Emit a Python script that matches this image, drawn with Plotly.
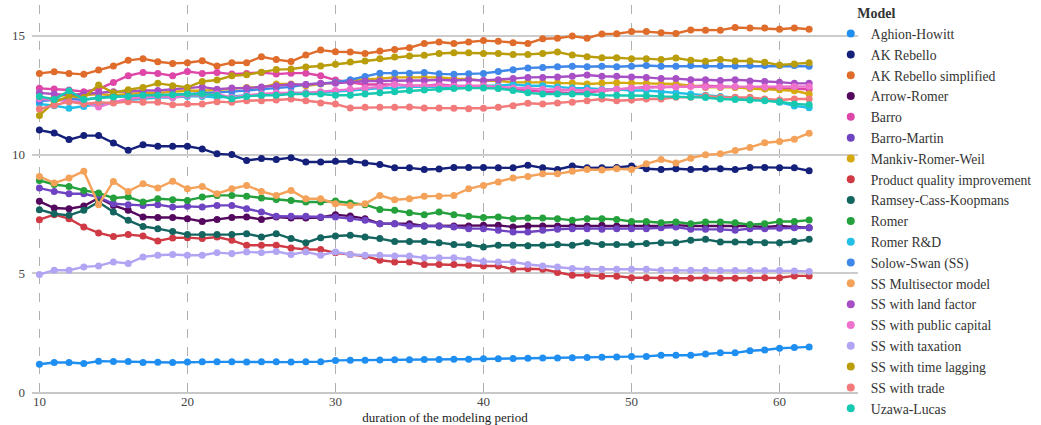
import plotly.graph_objects as go

periods = list(range(10, 63))

models = ["Aghion-Howitt", "AK Rebello", "AK Rebello simplified", "Arrow-Romer", "Barro",
          "Barro-Martin", "Mankiv-Romer-Weil", "Product quality improvement",
          "Ramsey-Cass-Koopmans", "Romer", "Romer R&D", "Solow-Swan (SS)",
          "SS Multisector model", "SS with land factor", "SS with public capital",
          "SS with taxation", "SS with time lagging", "SS with trade", "Uzawa-Lucas"]

aghion_howitt = [1.17, 1.24, 1.24, 1.2, 1.3, 1.28, 1.28, 1.24, 1.25, 1.24, 1.26, 1.27, 1.27, 1.27,
                 1.26, 1.27, 1.27, 1.26, 1.27, 1.27, 1.33, 1.34, 1.34, 1.35, 1.36, 1.36, 1.37, 1.37,
                 1.38, 1.38, 1.4, 1.4, 1.41, 1.42, 1.43, 1.43, 1.44, 1.45, 1.46, 1.47, 1.49, 1.5,
                 1.55, 1.55, 1.55, 1.6, 1.65, 1.65, 1.74, 1.77, 1.84, 1.87, 1.9]
ak_rebello = [11.03, 10.91, 10.63, 10.8, 10.8, 10.49, 10.18, 10.41, 10.35, 10.35, 10.35, 10.24,
              10.03, 10.0, 9.75, 9.83, 9.79, 9.87, 9.69, 9.69, 9.72, 9.72, 9.65, 9.58, 9.44, 9.44,
              9.37, 9.39, 9.46, 9.46, 9.46, 9.44, 9.44, 9.55, 9.44, 9.37, 9.52, 9.44, 9.44, 9.46,
              9.52, 9.4, 9.37, 9.4, 9.37, 9.4, 9.4, 9.37, 9.46, 9.46, 9.44, 9.44, 9.32]
ak_rebello_simplified = [13.42, 13.49, 13.42, 13.38, 13.56, 13.73, 13.97, 14.04, 13.91, 13.84,
                         13.87, 13.95, 13.73, 13.87, 13.87, 14.12, 14.0, 13.92, 14.19, 14.4,
                         14.33, 14.32, 14.26, 14.36, 14.43, 14.5, 14.68, 14.74, 14.68, 14.74,
                         14.8, 14.77, 14.71, 14.68, 14.88, 14.9, 14.99, 14.9, 15.08, 15.09,
                         15.18, 15.18, 15.13, 15.1, 15.25, 15.24, 15.24, 15.35, 15.33, 15.33,
                         15.28, 15.33, 15.28]
arrow_romer = [8.03, 7.75, 7.72, 7.83, 8.17, 7.86, 7.65, 7.37, 7.35, 7.35, 7.3, 7.18, 7.27, 7.35,
               7.37, 7.27, 7.37, 7.33, 7.33, 7.35, 7.47, 7.41, 7.3, 7.09, 7.09, 7.09, 6.99, 6.99,
               6.99, 6.99, 7.02, 7.02, 6.95, 6.99, 6.99, 6.99, 6.99, 6.99, 7.02, 6.99, 7.02, 7.02,
               6.99, 7.03, 6.99, 6.99, 6.99, 6.99, 6.99, 6.95, 6.99, 6.95, 6.92]
barro = [12.79, 12.76, 12.72, 12.65, 12.76, 13.04, 13.32, 13.46, 13.42, 13.32, 13.5, 13.42, 13.46,
         13.39, 13.42, 13.46, 13.39, 13.43, 13.43, 13.32, 13.14, 13.05, 12.95, 12.95, 12.95, 12.9,
         12.9, 12.95, 12.9, 12.85, 12.85, 12.8, 12.72, 12.7, 12.65, 12.62, 12.6, 12.62, 12.68,
         12.75, 12.8, 12.85, 12.85, 12.87, 12.9, 12.9, 12.87, 12.85, 12.82, 12.8, 12.8, 12.77, 12.75]
barro_martin = [8.59, 8.45, 8.35, 8.35, 8.21, 7.93, 7.89, 7.86, 7.89, 7.79, 7.82, 7.79, 7.86,
                7.86, 7.72, 7.58, 7.4, 7.4, 7.4, 7.37, 7.37, 7.3, 7.23, 7.09, 7.09, 6.99, 6.99,
                6.99, 6.95, 6.88, 6.88, 6.81, 6.74, 6.74, 6.81, 6.85, 6.88, 6.88, 6.85, 6.88, 6.88,
                6.88, 6.92, 6.95, 6.85, 6.85, 6.85, 6.81, 6.88, 6.88, 6.9, 6.92, 6.92]
mankiv_romer_weil = [12.3, 12.4, 12.55, 12.5, 12.55, 12.5, 12.55, 12.6, 12.6, 12.65, 12.69, 12.69,
                     12.72, 12.76, 12.83, 12.83, 12.97, 12.97, 12.9, 12.97, 13.04, 13.1, 13.18,
                     13.2, 13.25, 13.25, 13.25, 13.25, 13.2, 13.18, 13.11, 13.11, 13.04, 13.05,
                     13.04, 13.01, 13.01, 12.97, 13.01, 13.03, 13.01, 13.0, 12.97, 12.97, 12.9,
                     12.83, 12.83, 12.83, 12.78, 12.76, 12.73, 12.69, 12.55]
product_quality = [7.26, 7.47, 7.3, 6.95, 6.7, 6.55, 6.63, 6.57, 6.36, 6.49, 6.5, 6.46, 6.53, 6.39,
                   6.18, 6.18, 6.18, 6.07, 6.0, 6.0, 5.86, 5.79, 5.73, 5.55, 5.48, 5.48, 5.37,
                   5.37, 5.37, 5.34, 5.31, 5.31, 5.17, 5.19, 5.17, 5.03, 4.92, 4.92, 4.88, 4.88,
                   4.81, 4.81, 4.79, 4.79, 4.79, 4.81, 4.79, 4.79, 4.79, 4.81, 4.81, 4.89, 4.89]
ramsey_cass_koopmans = [7.68, 7.51, 7.44, 7.65, 8.0, 7.58, 7.23, 6.97, 6.88, 6.76, 6.63, 6.63,
                        6.63, 6.63, 6.67, 6.53, 6.67, 6.46, 6.29, 6.5, 6.57, 6.6, 6.53, 6.46,
                        6.34, 6.34, 6.34, 6.29, 6.21, 6.2, 6.11, 6.18, 6.18, 6.16, 6.18, 6.21,
                        6.18, 6.29, 6.21, 6.21, 6.21, 6.25, 6.29, 6.29, 6.39, 6.43, 6.32, 6.32,
                        6.32, 6.29, 6.29, 6.34, 6.43]
romer = [8.91, 8.74, 8.66, 8.49, 8.38, 8.17, 8.21, 8.0, 8.14, 8.1, 8.07, 8.21, 8.28, 8.28, 8.25,
         8.17, 8.11, 8.07, 8.0, 8.0, 8.04, 7.96, 7.89, 7.69, 7.65, 7.55, 7.47, 7.58, 7.47, 7.4,
         7.35, 7.37, 7.3, 7.33, 7.33, 7.3, 7.23, 7.3, 7.3, 7.27, 7.18, 7.18, 7.13, 7.16, 7.09,
         7.16, 7.16, 7.13, 7.05, 7.09, 7.18, 7.18, 7.24]
romer_rd = [12.13, 12.06, 11.95, 12.03, 12.1, 12.2, 12.3, 12.35, 12.4, 12.4, 12.45, 12.45, 12.4,
            12.45, 12.5, 12.5, 12.55, 12.6, 12.6, 12.62, 12.65, 12.7, 12.75, 12.8, 12.8, 12.85,
            12.85, 12.85, 12.85, 12.85, 12.9, 12.9, 12.95, 12.9, 12.9, 12.85, 12.8, 12.8, 12.75,
            12.75, 12.7, 12.7, 12.65, 12.6, 12.55, 12.5, 12.45, 12.4, 12.35, 12.3, 12.2, 12.05, 11.97]
solow_swan = [12.25, 12.3, 12.35, 12.3, 12.4, 12.45, 12.45, 12.5, 12.5, 12.52, 12.55, 12.6,
              12.62, 12.65, 12.7, 12.75, 12.8, 12.85, 12.95, 12.98, 13.04, 13.15, 13.29, 13.43,
              13.43, 13.43, 13.46, 13.4, 13.38, 13.4, 13.42, 13.5, 13.57, 13.65, 13.67, 13.7,
              13.72, 13.7, 13.72, 13.7, 13.72, 13.75, 13.72, 13.72, 13.75, 13.75, 13.74, 13.73,
              13.75, 13.75, 13.75, 13.75, 13.72]
ss_multisector = [9.08, 8.8, 9.01, 9.3, 7.89, 8.87, 8.45, 8.77, 8.59, 8.88, 8.56, 8.66, 8.35,
                  8.56, 8.7, 8.45, 8.28, 8.49, 8.14, 8.14, 7.93, 7.86, 7.93, 8.28, 8.1, 8.14,
                  8.24, 8.25, 8.28, 8.56, 8.7, 8.84, 9.01, 9.08, 9.19, 9.19, 9.3, 9.37, 9.35,
                  9.4, 9.37, 9.61, 9.79, 9.65, 9.85, 9.99, 10.03, 10.17, 10.3, 10.5, 10.55,
                  10.65, 10.9]
ss_land_factor = [12.6, 12.55, 12.5, 12.55, 12.6, 12.65, 12.65, 12.7, 12.7, 12.75, 12.8, 12.85,
                  12.75, 12.8, 12.8, 12.85, 12.9, 12.95, 12.95, 13.0, 13.0, 13.05, 13.1, 13.1,
                  13.12, 13.12, 13.12, 13.15, 13.12, 13.15, 13.12, 13.15, 13.2, 13.25, 13.25,
                  13.27, 13.3, 13.35, 13.3, 13.3, 13.27, 13.25, 13.2, 13.2, 13.15, 13.15, 13.12,
                  13.15, 13.1, 13.08, 13.05, 13.0, 13.0]
ss_public_capital = [12.35, 12.3, 12.25, 12.2, 12.0, 12.2, 12.35, 12.4, 12.45, 12.4, 12.5, 12.5,
                     12.55, 12.4, 12.5, 12.55, 12.6, 12.6, 12.6, 12.65, 12.7, 12.75, 12.8, 12.85,
                     12.95, 12.9, 12.9, 12.9, 12.88, 12.9, 12.9, 12.85, 12.8, 12.78, 12.75, 12.75,
                     12.72, 12.7, 12.72, 12.75, 12.8, 12.82, 12.85, 12.85, 12.87, 12.85, 12.85,
                     12.87, 12.85, 12.85, 12.85, 12.87, 12.87]
ss_taxation = [4.95, 5.13, 5.13, 5.27, 5.31, 5.48, 5.41, 5.69, 5.76, 5.79, 5.76, 5.76, 5.87, 5.83,
               5.9, 5.87, 5.92, 5.79, 5.9, 5.76, 5.9, 5.79, 5.76, 5.76, 5.73, 5.73, 5.65, 5.65,
               5.65, 5.59, 5.5, 5.48, 5.48, 5.37, 5.31, 5.27, 5.2, 5.17, 5.17, 5.17, 5.17, 5.17,
               5.13, 5.13, 5.13, 5.13, 5.12, 5.12, 5.12, 5.12, 5.12, 5.1, 5.08]
ss_time_lagging = [11.65, 12.21, 12.46, 12.4, 12.93, 12.6, 12.73, 12.83, 13.0, 12.9, 12.83, 13.08,
                   13.14, 13.32, 13.36, 13.47, 13.58, 13.6, 13.69, 13.73, 13.8, 13.9, 13.94,
                   14.04, 14.11, 14.15, 14.18, 14.26, 14.29, 14.29, 14.26, 14.26, 14.22, 14.22,
                   14.26, 14.32, 14.19, 14.12, 14.08, 14.08, 14.04, 14.04, 14.0, 14.07, 13.97,
                   13.93, 14.0, 13.94, 13.94, 13.89, 13.77, 13.82, 13.87]
ss_trade = [11.92, 12.08, 12.23, 12.13, 12.2, 12.17, 12.23, 12.2, 12.2, 12.1, 12.13, 12.13, 12.23,
            12.2, 12.27, 12.27, 12.3, 12.34, 12.27, 12.17, 12.13, 11.96, 11.99, 11.99, 11.99,
            12.0, 11.96, 11.96, 11.95, 11.93, 11.95, 11.99, 12.06, 12.16, 12.13, 12.17, 12.2,
            12.27, 12.34, 12.27, 12.3, 12.34, 12.34, 12.41, 12.41, 12.48, 12.41, 12.41, 12.41,
            12.34, 12.3, 12.34, 12.34]
uzawa_lucas = [12.45, 12.32, 12.69, 12.32, 12.38, 12.42, 12.45, 12.5, 12.5, 12.52, 12.55, 12.55,
               12.5, 12.35, 12.45, 12.5, 12.5, 12.55, 12.55, 12.55, 12.5, 12.5, 12.55, 12.6,
               12.65, 12.7, 12.72, 12.75, 12.78, 12.8, 12.8, 12.78, 12.7, 12.6, 12.55, 12.55,
               12.55, 12.55, 12.5, 12.5, 12.48, 12.48, 12.45, 12.45, 12.42, 12.4, 12.34, 12.32,
               12.3, 12.27, 12.23, 12.13, 12.1]

series = [aghion_howitt, ak_rebello, ak_rebello_simplified, arrow_romer, barro, barro_martin,
          mankiv_romer_weil, product_quality, ramsey_cass_koopmans, romer, romer_rd, solow_swan,
          ss_multisector, ss_land_factor, ss_public_capital, ss_taxation, ss_time_lagging,
          ss_trade, uzawa_lucas]

colors = ["#1f8ef1", "#14207a", "#e06c2c", "#54095e", "#de46a8", "#6f44c2", "#d6a90f",
          "#cf3a44", "#14655f", "#24a03c", "#22bfe6", "#3f87e8", "#f4a259", "#a84fc6",
          "#ee72cc", "#b1a4f2", "#b99d0a", "#f27a7a", "#17c9b0"]

FONT = "Liberation Serif"

fig = go.Figure()
for name, vals, col in zip(models, series, colors):
    fig.add_trace(go.Scatter(x=periods, y=vals, mode="lines+markers", name=name,
                             line=dict(color=col, width=2.4), marker=dict(color=col, size=7),
                             legendgroup=name, showlegend=False))
for name, col in zip(models, colors):
    fig.add_trace(go.Scatter(x=[None], y=[None], mode="markers", name=name,
                             marker=dict(color=col, size=8), legendgroup=name, showlegend=True))

fig.update_layout(
    width=1041, height=425,
    margin=dict(l=32, r=183, t=5, b=33, autoexpand=False),
    paper_bgcolor="white", plot_bgcolor="white",
    font=dict(family=FONT, size=13, color="#333333"),
    legend=dict(title=dict(text="&nbsp;&nbsp;&nbsp;&nbsp;&nbsp;&nbsp;&nbsp;<b>Model</b>",
                           font=dict(family=FONT, size=14, color="#333")),
                x=0.967, xanchor="left", yref="container", y=1.0, yanchor="top",
                maxheight=1.0,
                font=dict(family=FONT, size=13.7, color="#333"), itemwidth=30,
                tracegroupgap=0, bgcolor="rgba(0,0,0,0)"),
    xaxis=dict(range=[9.5, 65.3], tickvals=[10, 20, 30, 40, 50, 60],
               showgrid=True, gridcolor="#b0b0b0", griddash="dash", gridwidth=1,
               showline=True, linecolor="#c8c8c8", linewidth=1.5, zeroline=False,
               ticks="", ticklabelstandoff=-3, tickfont=dict(family=FONT, size=13, color="#444"),
               title=dict(text="duration of the modeling period",
                          font=dict(family=FONT, size=13, color="#222"), standoff=10)),
    yaxis=dict(range=[0, 16.3], tickvals=[0, 5, 10, 15], showgrid=True, gridcolor="#cccccc",
               gridwidth=1.5, zeroline=False, showline=False, ticks="", ticklabelstandoff=6,
               tickfont=dict(family=FONT, size=13, color="#444")),
    showlegend=True,
)

fig.write_html("out.html", config={"displayModeBar": False},
               post_script="document.body.style.margin='0';")
